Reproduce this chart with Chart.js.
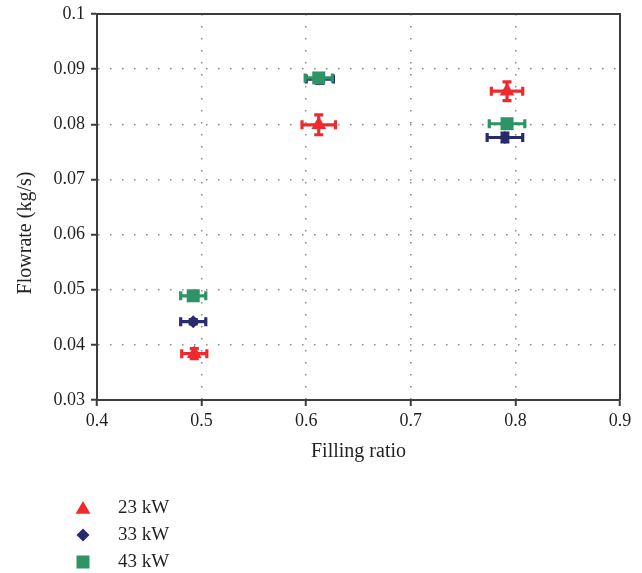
<!DOCTYPE html>
<html>
<head>
<meta charset="utf-8">
<script src="https://cdn.jsdelivr.net/npm/chart.js@4.4.0/dist/chart.umd.min.js"></script>
<style>
  html, body { margin: 0; padding: 0; background: #fff; }
  #wrap { width: 642px; height: 573px; position: relative; }
</style>
</head>
<body>
<div id="wrap"><canvas id="c" width="642" height="573"></canvas></div>
<script>
// ---- Data ----
const seriesNames = ['23 kW', '33 kW', '43 kW'];

const fill23 = [0.493, 0.612, 0.792];
const flow23 = [0.0384, 0.0799, 0.0860];
const xErr23 = [0.012, 0.016, 0.015];
const yErr23 = [0.0009, 0.0018, 0.0017];

const fill33 = [0.492, 0.613, 0.790];
const flow33 = [0.0442, 0.0882, 0.0776];
const xErr33 = [0.012, 0.013, 0.017];
const yErr33 = [0.0004, 0.0008, 0.0008];

const fill43 = [0.492, 0.612, 0.792];
const flow43 = [0.0489, 0.0884, 0.0801];
const xErr43 = [0.012, 0.013, 0.017];
const yErr43 = [0.0005, 0.0005, 0.0006];

const xTickLabels = ['0.4', '0.5', '0.6', '0.7', '0.8', '0.9'];
const yTickLabels = ['0.03', '0.04', '0.05', '0.06', '0.07', '0.08', '0.09', '0.1'];

const xTitle = 'Filling ratio';
const yTitle = 'Flowrate (kg/s)';

// ---- Styles ----
const RED = '#ee2a2e', NAVY = '#282a6c', GREEN = '#2e9466';
const FONT = "'Liberation Serif', 'Times New Roman', serif";
const TEXT = '#231f20';
const AXIS = '#3c3c3c';

function pts(xs, ys, xe, ye) {
  return xs.map((x, i) => ({ x: x, y: ys[i], xerr: xe[i], yerr: ye[i] }));
}

const datasets = [
  { label: seriesNames[0], data: pts(fill23, flow23, xErr23, yErr23), pointStyle: 'triangle', pointRadius: 8.5,
    backgroundColor: RED, borderColor: RED, borderWidth: 0, order: 0 },
  { label: seriesNames[1], data: pts(fill33, flow33, xErr33, yErr33), pointStyle: 'rectRot', pointRadius: 6.5,
    backgroundColor: NAVY, borderColor: NAVY, borderWidth: 0, order: 2 },
  { label: seriesNames[2], data: pts(fill43, flow43, xErr43, yErr43), pointStyle: 'rect', pointRadius: 9.2,
    backgroundColor: GREEN, borderColor: GREEN, borderWidth: 0, order: 1 }
];

const errorBars = {
  id: 'errorBars',
  beforeDatasetDraw(chart, args) {
    const ds = chart.data.datasets[args.index];
    const xs = chart.scales.x, ys = chart.scales.y;
    const ctx = chart.ctx;
    ctx.save();
    ctx.strokeStyle = ds.borderColor;
    ctx.lineWidth = 3.2;
    const cap = 4.5;
    ds.data.forEach(p => {
      const px = xs.getPixelForValue(p.x), py = ys.getPixelForValue(p.y);
      const x1 = xs.getPixelForValue(p.x - p.xerr), x2 = xs.getPixelForValue(p.x + p.xerr);
      const y1 = ys.getPixelForValue(p.y - p.yerr), y2 = ys.getPixelForValue(p.y + p.yerr);
      ctx.beginPath();
      ctx.moveTo(x1, py); ctx.lineTo(x2, py);
      ctx.moveTo(x1, py - cap); ctx.lineTo(x1, py + cap);
      ctx.moveTo(x2, py - cap); ctx.lineTo(x2, py + cap);
      ctx.moveTo(px, y1); ctx.lineTo(px, y2);
      ctx.moveTo(px - cap, y1); ctx.lineTo(px + cap, y1);
      ctx.moveTo(px - cap, y2); ctx.lineTo(px + cap, y2);
      ctx.stroke();
    });
    ctx.restore();
  }
};

function drawSymbol(ctx, style, r, x, y, color) {
  ctx.save();
  ctx.fillStyle = color;
  ctx.beginPath();
  if (style === 'triangle') {
    let rad = 0;
    ctx.moveTo(x + Math.sin(rad) * r, y - Math.cos(rad) * r);
    rad += 2 * Math.PI / 3;
    ctx.lineTo(x + Math.sin(rad) * r, y - Math.cos(rad) * r);
    rad += 2 * Math.PI / 3;
    ctx.lineTo(x + Math.sin(rad) * r, y - Math.cos(rad) * r);
  } else if (style === 'rectRot') {
    ctx.moveTo(x, y - r); ctx.lineTo(x + r, y); ctx.lineTo(x, y + r); ctx.lineTo(x - r, y);
  } else {
    const s = r * Math.SQRT1_2;
    ctx.rect(x - s, y - s, 2 * s, 2 * s);
  }
  ctx.closePath();
  ctx.fill();
  ctx.restore();
}

const frameAndText = {
  id: 'frameAndText',
  afterDraw(chart) {
    const ctx = chart.ctx, a = chart.chartArea;
    ctx.save();
    // top and right frame
    ctx.strokeStyle = AXIS;
    ctx.lineWidth = 2;
    ctx.beginPath();
    ctx.moveTo(a.left, a.top); ctx.lineTo(a.right, a.top); ctx.lineTo(a.right, a.bottom);
    ctx.stroke();
    // axis titles
    ctx.fillStyle = TEXT;
    ctx.font = '20px ' + FONT;
    ctx.textAlign = 'center';
    ctx.textBaseline = 'middle';
    ctx.fillText(xTitle, (a.left + a.right) / 2, 452);
    ctx.save();
    ctx.translate(26, 233);
    ctx.rotate(-Math.PI / 2);
    ctx.fillText(yTitle, 0, 0);
    ctx.restore();
    // legend
    const legY = [508, 535, 562];
    ctx.font = '19px ' + FONT;
    ctx.textAlign = 'left';
    chart.data.datasets.forEach((ds, i) => {
      drawSymbol(ctx, ds.pointStyle, ds.pointStyle === 'rect' ? 9.2 : (ds.pointStyle === 'triangle' ? 8.5 : 6.5), 83, legY[i] + (ds.pointStyle === 'triangle' ? 1.5 : 0), ds.backgroundColor);
      ctx.fillText(ds.label, 118, legY[i]);
    });
    ctx.restore();
  }
};

const fmt = v => Number(v.toFixed(2)).toString();

new Chart(document.getElementById('c'), {
  type: 'scatter',
  data: { datasets: datasets },
  options: {
    responsive: false,
    animation: false,
    layout: { padding: { left: 0, top: 14, right: 22, bottom: 143 } },
    plugins: { legend: { display: false }, tooltip: { enabled: false } },
    elements: { point: { hoverRadius: 0 } },
    scales: {
      x: {
        type: 'linear', min: 0.4, max: 0.9,
        afterBuildTicks: s => { s.ticks = xTickLabels.map(t => ({ value: parseFloat(t) })); },
        afterFit: s => { s.height = 30; s.paddingLeft = 0; s.paddingRight = 0; },
        ticks: { callback: v => fmt(v), color: TEXT, font: { family: FONT, size: 18 }, padding: 4, maxRotation: 0 },
        grid: { color: '#8a8a8a', lineWidth: 1.5, tickColor: AXIS, tickLength: 6, tickWidth: 2, tickBorderDash: [] },
        border: { display: true, color: AXIS, width: 2, dash: [1.5, 10.5] }
      },
      y: {
        type: 'linear', min: 0.03, max: 0.1,
        afterBuildTicks: s => { s.ticks = yTickLabels.map(t => ({ value: parseFloat(t) })); },
        afterFit: s => { s.width = 97; s.paddingTop = 0; s.paddingBottom = 0; },
        ticks: { callback: v => fmt(v), color: TEXT, font: { family: FONT, size: 18 }, padding: 6 },
        grid: { color: '#8a8a8a', lineWidth: 1.5, tickColor: AXIS, tickLength: 6, tickWidth: 2, tickBorderDash: [] },
        border: { display: true, color: AXIS, width: 2, dash: [1.5, 10.5] }
      }
    }
  },
  plugins: [errorBars, frameAndText]
});
</script>
</body>
</html>
